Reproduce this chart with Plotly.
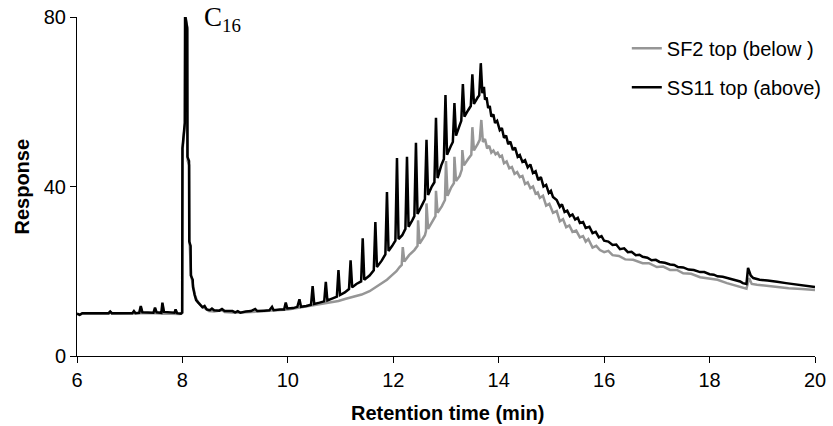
import plotly.graph_objects as go

# ---- data ----
sf2_time = [6.00, 6.05, 6.10, 6.60, 6.63, 6.66, 7.20, 7.21, 7.24, 7.47, 7.48, 7.51, 7.61, 7.62, 7.65, 7.95,
            7.995, 8.005, 8.05, 8.055, 8.095, 8.10, 8.13, 8.135, 8.165, 8.205, 8.24, 8.28, 8.32, 8.38, 8.44,
            8.50, 8.60, 8.75, 8.80, 9.00, 9.20, 9.40, 9.60, 9.80, 10.00, 10.20, 10.40, 10.60, 10.80, 10.96,
            11.10, 11.25, 11.40, 11.55, 11.66, 11.75, 11.88, 11.95, 12.06, 12.12, 12.16, 12.18, 12.21, 12.30,
            12.40, 12.46, 12.47, 12.50, 12.60, 12.62, 12.63, 12.66, 12.75, 12.80, 12.81, 12.84, 12.92, 12.98,
            13.00, 13.03, 13.10, 13.15, 13.16, 13.19, 13.26, 13.30, 13.31, 13.34, 13.42, 13.48, 13.50, 13.53,
            13.60, 13.64, 13.67, 13.70, 13.74, 13.78, 13.82, 13.86, 13.90, 13.94, 13.98, 14.02, 14.06, 14.10,
            14.15, 14.20, 14.25, 14.30, 14.35, 14.40, 14.45, 14.50, 14.55, 14.60, 14.65, 14.70, 14.74, 14.78,
            14.84, 14.90, 14.96, 15.03, 15.10, 15.16, 15.22, 15.28, 15.34, 15.40, 15.47, 15.54, 15.60, 15.65,
            15.70, 15.78, 15.85, 15.92, 16.00, 16.08, 16.16, 16.28, 16.40, 16.55, 16.73, 16.85, 17.00, 17.12,
            17.25, 17.38, 17.50, 17.65, 17.82, 18.00, 18.15, 18.33, 18.50, 18.63, 18.70, 18.75, 18.80, 18.90,
            19.10, 19.30, 19.50, 19.75, 20.00]
sf2_resp = [10.0, 9.7, 10.0, 10.0, 10.4, 10.0, 10.1, 11.5, 10.1, 10.1, 11.2, 10.1, 10.0, 12.3, 10.0, 9.9,
            10.1, 49.0, 55.0, 80.5, 77.0, 46.0, 45.0, 27.0, 19.0, 16.0, 14.2, 13.0, 12.3, 11.5, 11.2,
            10.6, 10.5, 10.8, 10.4, 10.2, 10.3, 10.5, 10.6, 10.8, 11.0, 11.4, 11.8, 12.2, 12.6, 13.0,
            13.5, 14.0, 14.5, 15.3, 16.2, 16.8, 18.0, 18.8, 20.0, 21.0, 21.5, 25.7, 22.3, 23.8,
            25.0, 26.0, 32.0, 26.5, 28.5, 29.5, 36.0, 30.0, 32.0, 33.0, 39.0, 33.8, 35.3, 36.8,
            46.0, 37.8, 39.8, 40.8, 47.0, 41.3, 42.5, 44.0, 48.6, 45.0, 46.5, 47.5, 54.0, 48.5,
            50.0, 51.0, 55.7, 50.5, 51.2, 49.0, 49.6, 48.0, 48.5, 47.6, 48.0, 47.0, 47.3, 45.5,
            45.9, 44.3, 44.6, 43.0, 43.4, 42.2, 42.5, 40.6, 41.0, 39.6, 40.0, 38.3, 38.6, 37.3,
            37.8, 35.5, 35.9, 33.8, 34.2, 31.8, 32.3, 30.4, 30.8, 29.3, 29.6, 28.0, 28.3, 27.0,
            27.6, 25.6, 26.0, 25.0, 24.5, 24.8, 23.8, 23.6, 22.8, 22.7, 21.9, 21.9, 21.0, 21.1,
            20.3, 20.3, 19.5, 19.4, 18.6, 18.2, 18.0, 17.2, 16.6, 16.0, 15.9, 18.4, 17.0, 16.8,
            16.5, 16.3, 16.0, 15.8, 15.6]

ss11_time = [6.00, 6.05, 6.10, 6.60, 6.63, 6.66, 7.05, 7.08, 7.11, 7.18, 7.21, 7.24, 7.45, 7.48, 7.51, 7.60,
             7.62, 7.65, 7.85, 7.87, 7.90, 7.97, 7.995, 8.00, 8.045, 8.05, 8.09, 8.095, 8.125, 8.13, 8.155,
             8.16, 8.195, 8.20, 8.23, 8.26, 8.30, 8.34, 8.38, 8.42, 8.46, 8.52, 8.56, 8.60, 8.70, 8.75, 8.80,
             8.95, 9.00, 9.05, 9.10, 9.20, 9.30, 9.38, 9.42, 9.55, 9.65, 9.70, 9.73, 9.85, 9.93, 9.96, 9.99,
             10.10, 10.18, 10.22, 10.25, 10.35, 10.44, 10.47, 10.50, 10.60, 10.69, 10.72, 10.75, 10.85, 10.93,
             10.96, 10.99, 11.08, 11.16, 11.19, 11.22, 11.30, 11.39, 11.42, 11.45, 11.55, 11.63, 11.66, 11.69,
             11.78, 11.85, 11.88, 11.91, 11.98, 12.04, 12.07, 12.10, 12.17, 12.23, 12.26, 12.29, 12.36, 12.40,
             12.43, 12.46, 12.54, 12.60, 12.63, 12.66, 12.73, 12.78, 12.81, 12.84, 12.91, 12.96, 12.99, 13.02,
             13.09, 13.13, 13.16, 13.19, 13.26, 13.29, 13.32, 13.35, 13.42, 13.47, 13.50, 13.53, 13.60, 13.63,
             13.66, 13.69, 13.72, 13.74, 13.77, 13.80, 13.83, 13.86, 13.90, 13.93, 13.97, 14.02, 14.06, 14.10,
             14.14, 14.18, 14.22, 14.27, 14.31, 14.36, 14.40, 14.45, 14.50, 14.55, 14.60, 14.65, 14.70, 14.75,
             14.80, 14.85, 14.90, 14.95, 14.99, 15.03, 15.10, 15.16, 15.20, 15.25, 15.30, 15.35, 15.40, 15.45,
             15.50, 15.54, 15.60, 15.65, 15.72, 15.78, 15.84, 15.90, 15.95, 16.00, 16.08, 16.16, 16.23, 16.30,
             16.38, 16.45, 16.52, 16.60, 16.67, 16.73, 16.82, 16.90, 16.98, 17.05, 17.15, 17.25, 17.33, 17.40,
             17.50, 17.60, 17.70, 17.82, 17.90, 18.00, 18.08, 18.15, 18.25, 18.33, 18.42, 18.50, 18.58, 18.63,
             18.70, 18.73, 18.78, 18.83, 18.95, 19.10, 19.20, 19.28, 19.45, 19.60, 19.75, 19.90, 20.00]
ss11_resp = [10.0, 9.7, 10.1, 10.1, 10.5, 10.1, 10.1, 10.6, 10.1, 10.2, 11.8, 10.3, 10.2, 11.4, 10.3, 10.2,
             12.6, 10.4, 10.2, 11.0, 10.1, 10.0, 10.3, 49.0, 55.0, 80.5, 77.5, 47.0, 46.0, 27.0, 26.0,
             19.0, 18.0, 16.3, 14.5, 13.2, 12.6, 12.0, 11.5, 11.8, 11.0, 10.8, 11.2, 10.8, 10.7, 11.1, 10.6,
             10.6, 10.3, 10.6, 10.2, 10.5, 10.6, 11.1, 10.6, 10.7, 10.8, 11.6, 10.8, 11.0, 11.0, 12.6, 11.2,
             11.3, 11.6, 13.4, 11.6, 11.8, 12.1, 16.5, 12.3, 12.6, 12.9, 17.5, 13.1, 13.6, 14.0,
             20.3, 14.4, 15.0, 15.8, 22.6, 16.2, 17.0, 17.6, 27.8, 18.0, 19.0, 20.2, 31.6, 21.0,
             22.5, 24.0, 38.7, 24.8, 26.0, 27.2, 46.7, 27.6, 28.5, 30.0, 47.0, 30.5, 32.0, 33.0,
             50.3, 33.5, 35.5, 37.0, 51.0, 38.0, 40.0, 41.0, 56.2, 42.0, 45.0, 46.5, 61.6, 47.5,
             49.5, 50.5, 59.7, 52.0, 54.5, 55.5, 64.2, 56.5, 58.0, 59.0, 66.5, 59.5, 61.0, 61.5,
             69.1, 62.0, 63.5, 60.5, 61.0, 58.5, 59.0, 56.5, 57.0, 55.0, 55.5, 53.3, 53.8, 51.5,
             52.0, 50.0, 50.6, 48.6, 49.2, 47.0, 47.4, 45.8, 46.2, 44.5, 45.2, 43.2, 43.6, 41.5,
             42.2, 40.0, 40.4, 38.5, 39.0, 37.5, 36.8, 35.2, 35.8, 34.0, 34.3, 33.0, 33.4, 32.2,
             32.6, 31.4, 31.6, 30.2, 30.5, 29.0, 29.3, 28.0, 28.3, 27.2, 27.0, 26.2, 26.3, 25.2,
             25.4, 24.5, 24.6, 23.8, 23.9, 23.4, 23.2, 22.6, 22.7, 22.2, 22.0, 21.6, 21.5, 21.0,
             20.9, 20.4, 20.3, 19.8, 19.8, 19.3, 19.2, 18.8, 18.7, 18.4, 18.2, 17.8, 17.6, 17.2,
             17.0, 20.8, 19.0, 18.4, 18.0, 17.8, 17.7, 17.5, 17.2, 17.0, 16.8, 16.5, 16.3]

series_names = ["SF2 top (below )", "SS11 top (above)"]
x_ticks = [6, 8, 10, 12, 14, 16, 18, 20]
y_ticks = [0, 40, 80]
peak_label = "C<sub>16</sub>"
x_title = "Retention time (min)"
y_title = "Response"

FONT = "Liberation Sans, Arial, sans-serif"

fig = go.Figure()
fig.add_trace(go.Scatter(x=sf2_time, y=sf2_resp, mode="lines", name=series_names[0],
                         line=dict(color="#969696", width=2.5), legendgroup="a"))
fig.add_trace(go.Scatter(x=ss11_time, y=ss11_resp, mode="lines", name=series_names[1],
                         line=dict(color="#000000", width=2.5), legendgroup="b"))

fig.update_layout(
    width=833, height=426,
    margin=dict(l=77, r=18, t=17, b=70, autoexpand=False),
    paper_bgcolor="white", plot_bgcolor="white",
    font=dict(family=FONT, size=20, color="black"),
    showlegend=True,
    legend=dict(x=0.745, y=0.965, xanchor="left", yanchor="top",
                bgcolor="rgba(0,0,0,0)", font=dict(size=20),
                tracegroupgap=10, traceorder="grouped"),
    xaxis=dict(range=[6, 20], tickvals=x_ticks, ticks="outside", ticklen=6, tickcolor="black",
               showline=True, linecolor="black", linewidth=1, showgrid=False, zeroline=False,
               tickfont=dict(size=20), automargin=False),
    yaxis=dict(range=[0, 80], tickvals=y_ticks, ticks="outside", ticklen=6, tickcolor="black",
               showline=True, linecolor="black", linewidth=1, showgrid=False, zeroline=False,
               tickfont=dict(size=20), automargin=False),
    annotations=[
        dict(text=peak_label, x=8.38, y=79.5, xref="x", yref="y", xanchor="left", yanchor="middle",
             showarrow=False, font=dict(family="Liberation Serif, Times New Roman, serif", size=27)),
        dict(text="<b>" + x_title + "</b>", x=0.502, y=-0.168, xref="paper", yref="paper",
             xanchor="center", yanchor="middle", showarrow=False, font=dict(size=20)),
        dict(text="<b>" + y_title + "</b>", x=-(77 - 21) / 738, y=0.5, xref="paper", yref="paper",
             xanchor="center", yanchor="middle", textangle=-90, showarrow=False, font=dict(size=20)),
    ],
)

fig.write_html("out.html", config={"displayModeBar": False},
               post_script="document.body.style.margin='0px';")
